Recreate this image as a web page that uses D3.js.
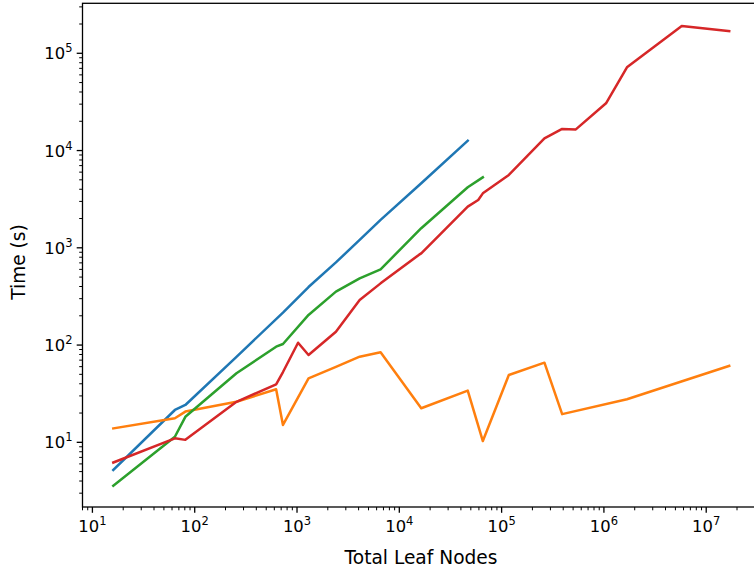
<!DOCTYPE html>
<html>
<head>
<meta charset="utf-8">
<script src="https://cdn.jsdelivr.net/npm/d3@7"></script>
<style>
  body { margin: 0; background: #fff; }
  text { font-family: "DejaVu Sans", sans-serif; fill: #000; }
</style>
</head>
<body>
<script>
// leaf node counts and timings (s) per series
var blueX = [16, 64, 81, 256, 729, 1296, 2401, 4096, 6561, 16384, 46656];
var blueY = [5.2, 21.5, 24.2, 75.7, 216, 395, 708, 1206, 1938, 4615, 12600];

var orangeX = [16, 64, 81, 256, 625, 729, 1296, 2401, 4096, 6561, 16384, 46656, 65536, 117649, 262144, 390625, 1679616, 16777216];
var orangeY = [13.9, 17.7, 20.7, 26.1, 35.1, 15.1, 45.5, 59.7, 75.9, 84.2, 22.4, 34.0, 10.3, 49.2, 65.9, 19.5, 27.7, 61];

var greenX = [16, 64, 81, 256, 625, 729, 1296, 2401, 4096, 6561, 16384, 46656, 65536];
var greenY = [3.58, 11.4, 18.3, 51.3, 96.2, 102.6, 204, 354, 485, 601, 1590, 4190, 5310];

var redX = [16, 64, 81, 256, 625, 729, 1024, 1296, 2401, 4096, 6561, 15625, 16384, 46656, 59049, 65536, 117649, 262144, 390625, 531441, 1048576, 1679616, 5764801, 16777216];
var redY = [6.2, 11.0, 10.6, 26.1, 39.4, 52.8, 105.7, 79, 137, 290, 431, 850, 877, 2650, 3100, 3630, 5610, 13360, 16680, 16500, 30600, 71800, 191000, 169000];

var xTickExps = [1, 2, 3, 4, 5, 6, 7];
var yTickExps = [1, 2, 3, 4, 5];

var w = 754, h = 571;
var pL = 82.5, pR = 760, pT = 3.3, pB = 507;

var x = d3.scaleLog().domain([8, Math.pow(2, 25)]).range([pL, pR]);
var y = d3.scaleLog().domain([Math.pow(10, 0.335), Math.pow(10, 5.514)]).range([pB, pT]);

var svg = d3.select('body').append('svg')
  .attr('width', w)
  .attr('height', h);

// minor tick values inside a scale's domain
function minors(scale) {
  var d = scale.domain(), out = [];
  for (var e = -1; e <= 8; e++) {
    for (var m = 2; m <= 9; m++) {
      var v = m * Math.pow(10, e);
      if (v >= d[0] && v <= d[1]) out.push(v);
    }
  }
  return out;
}

var series = [
  {xs: blueX, ys: blueY, color: '#1f77b4'},
  {xs: orangeX, ys: orangeY, color: '#ff7f0e'},
  {xs: greenX, ys: greenY, color: '#2ca02c'},
  {xs: redX, ys: redY, color: '#d62728'}
];

var line = d3.line()
  .x(function(d){ return x(d[0]); })
  .y(function(d){ return y(d[1]); });

svg.append('defs').append('clipPath').attr('id', 'clip')
  .append('rect').attr('x', pL).attr('y', pT).attr('width', pR - pL).attr('height', pB - pT);

var plot = svg.append('g').attr('clip-path', 'url(#clip)');
series.forEach(function(s){
  plot.append('path')
    .datum(d3.zip(s.xs, s.ys))
    .attr('fill', 'none')
    .attr('stroke', s.color)
    .attr('stroke-width', 2.5)
    .attr('stroke-linejoin', 'round')
    .attr('stroke-linecap', 'square')
    .attr('d', line);
});

// x ticks
var gx = svg.append('g');
minors(x).forEach(function(v){
  gx.append('line').attr('x1', x(v)).attr('x2', x(v)).attr('y1', pB).attr('y2', pB + 3.3)
    .attr('stroke', '#000').attr('stroke-width', 1);
});
xTickExps.forEach(function(e){
  var px = x(Math.pow(10, e));
  gx.append('line').attr('x1', px).attr('x2', px).attr('y1', pB).attr('y2', pB + 5.8)
    .attr('stroke', '#000').attr('stroke-width', 1.3);
  var t = gx.append('text').attr('x', px).attr('y', pB + 25).attr('text-anchor', 'middle')
    .style('font-size', '16.4px');
  t.append('tspan').text('10');
  t.append('tspan').attr('dy', -7).style('font-size', '11.5px').text(e);
});

// y ticks
var gy = svg.append('g');
minors(y).forEach(function(v){
  gy.append('line').attr('x1', pL - 3.3).attr('x2', pL).attr('y1', y(v)).attr('y2', y(v))
    .attr('stroke', '#000').attr('stroke-width', 1);
});
yTickExps.forEach(function(e){
  var py = y(Math.pow(10, e));
  gy.append('line').attr('x1', pL - 5.8).attr('x2', pL).attr('y1', py).attr('y2', py)
    .attr('stroke', '#000').attr('stroke-width', 1.3);
  var t = gy.append('text').attr('x', pL - 10).attr('y', py + 6).attr('text-anchor', 'end')
    .style('font-size', '16.4px');
  t.append('tspan').text('10');
  t.append('tspan').attr('dy', -7).style('font-size', '11.5px').text(e);
});

// frame
svg.append('rect')
  .attr('x', pL).attr('y', pT)
  .attr('width', pR - pL).attr('height', pB - pT)
  .attr('fill', 'none').attr('stroke', '#000').attr('stroke-width', 1.3);

// axis labels
svg.append('text')
  .attr('x', 421).attr('y', 564)
  .attr('text-anchor', 'middle').style('font-size', '18.6px')
  .text('Total Leaf Nodes');

svg.append('text')
  .attr('transform', 'translate(25,262) rotate(-90)')
  .attr('text-anchor', 'middle').style('font-size', '18.6px')
  .text('Time (s)');
</script>
</body>
</html>
